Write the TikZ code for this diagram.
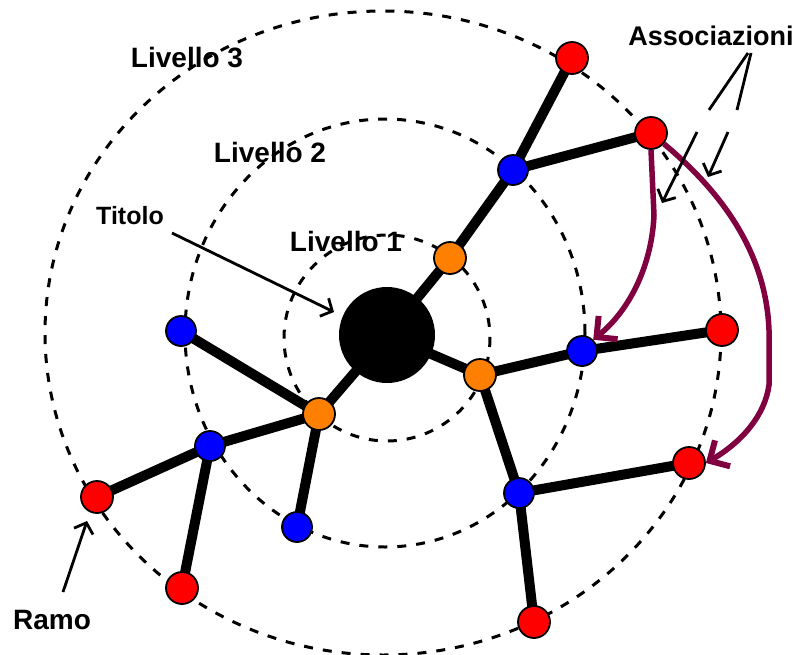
\documentclass[tikz,border=0pt]{standalone}
\usepackage{fontspec}
\setmainfont{Liberation Sans}
\usetikzlibrary{arrows.meta,backgrounds}
\definecolor{nodered}{RGB}{255,0,0}
\definecolor{nodeblue}{RGB}{0,0,255}
\definecolor{nodeorange}{RGB}{255,128,0}
\definecolor{assocpurple}{RGB}{128,0,64}
\tikzset{
  levelring/.style={draw=black, line width=3pt, dash pattern=on 9pt off 10pt},
  branch/.style={draw=black, line width=10pt},
  dot/.style={circle, draw=black, line width=1.8pt, inner sep=0pt, minimum size=32pt},
  reddot/.style={dot, fill=nodered},
  orangedot/.style={dot, fill=nodeorange},
  bluedot/.style={dot, fill=nodeblue, minimum size=30pt},
  assoc/.style={draw=assocpurple, line width=5.5pt,
    -{Straight Barb[length=15pt,width=30pt,line width=6pt]}},
  pointer/.style={draw=black, line width=2.8pt,
    -{Straight Barb[length=9pt,width=20pt,line width=2.8pt]}},
  lbl/.style={font=\bfseries\fontsize{28}{30}\selectfont, inner sep=0pt}
}
\begin{document}
\begin{tikzpicture}[x=1pt,y=-1pt]
\useasboundingbox (0,0) rectangle (796,654);

% nodes
\node[circle, fill=black, inner sep=0pt, minimum size=96pt] (c) at (387,335) {};
\node[orangedot] (a) at (450,258) {};
\node[bluedot]   (b) at (513,170) {};
\node[reddot]    (cc) at (572,58) {};
\node[reddot]    (d) at (651,133) {};
\node[orangedot] (e) at (480,375) {};
\node[bluedot]   (f) at (582,351) {};
\node[reddot]    (g) at (722,330) {};
\node[bluedot]   (h) at (519,493) {};
\node[reddot]    (ii) at (689,463) {};
\node[reddot]    (j) at (534,622) {};
\node[orangedot] (k) at (319,414) {};
\node[bluedot]   (l) at (181,331) {};
\node[bluedot]   (m) at (210,446) {};
\node[reddot]    (n) at (97,497) {};
\node[reddot]    (o) at (182,588) {};
\node[bluedot]   (p) at (297,527) {};

\begin{pgfonlayer}{background}
  \fill[white] (0,0) rectangle (796,654);
  % level rings
  \draw[levelring] (387,338) circle [radius=103];
  \draw[levelring] (385,333) ellipse [x radius=200, y radius=214];
  \draw[levelring] (383,333) ellipse [x radius=338, y radius=322];
  % branches
  \draw[branch] (c.center) -- (a.center) -- (b.center) -- (cc.center);
  \draw[branch] (b.center) -- (d.center);
  \draw[branch] (c.center) -- (e.center) -- (f.center) -- (g.center);
  \draw[branch] (e.center) -- (h.center) -- (ii.center);
  \draw[branch] (h.center) -- (j.center);
  \draw[branch] (c.center) -- (k.center) -- (l.center);
  \draw[branch] (k.center) -- (m.center) -- (n.center);
  \draw[branch] (m.center) -- (o.center);
  \draw[branch] (k.center) -- (p.center);
\end{pgfonlayer}

% association arrows
\draw[assoc] (d.south) -- (654,215) .. controls (652,262) and (632,308) .. (f.45);
\draw[assoc] (d.-40) .. controls (725,195) and (766,255) .. (769,330) -- (769,385)
  .. controls (765,415) and (742,442) .. (ii.east);

% labels
\node[lbl] (lv3) at (187,58) {Livello 3};
\node[lbl] (lv2) at (270,152) {Livello 2};
\node[lbl] (lv1) at (346,241) {Livello 1};
\node[lbl, font=\bfseries\fontsize{25}{27}\selectfont] (tit) at (130,216) {Titolo};
\node[lbl, font=\bfseries\fontsize{27}{29}\selectfont] (asc) at (711,36) {Associazioni};
\node[lbl] (ramo) at (52,620) {Ramo};

% pointers
\coordinate (titend) at (334,312);
\draw[pointer] (172,233) -- (titend);
\coordinate (as1a) at (748,53);
\coordinate (as1b) at (709,110);
\coordinate (as1c) at (697,132);
\coordinate (as1d) at (662,203);
\draw[pointer] (as1a) -- (as1b) (as1c) -- (as1d);
\coordinate (as2a) at (751,53);
\coordinate (as2b) at (737,110);
\coordinate (as2c) at (728,132);
\coordinate (as2d) at (708,177);
\draw[pointer] (as2a) -- (as2b) (as2c) -- (as2d);
\coordinate (ramoend) at (87,521);
\draw[pointer] (63,592) -- (ramoend);
\end{tikzpicture}
\end{document}
